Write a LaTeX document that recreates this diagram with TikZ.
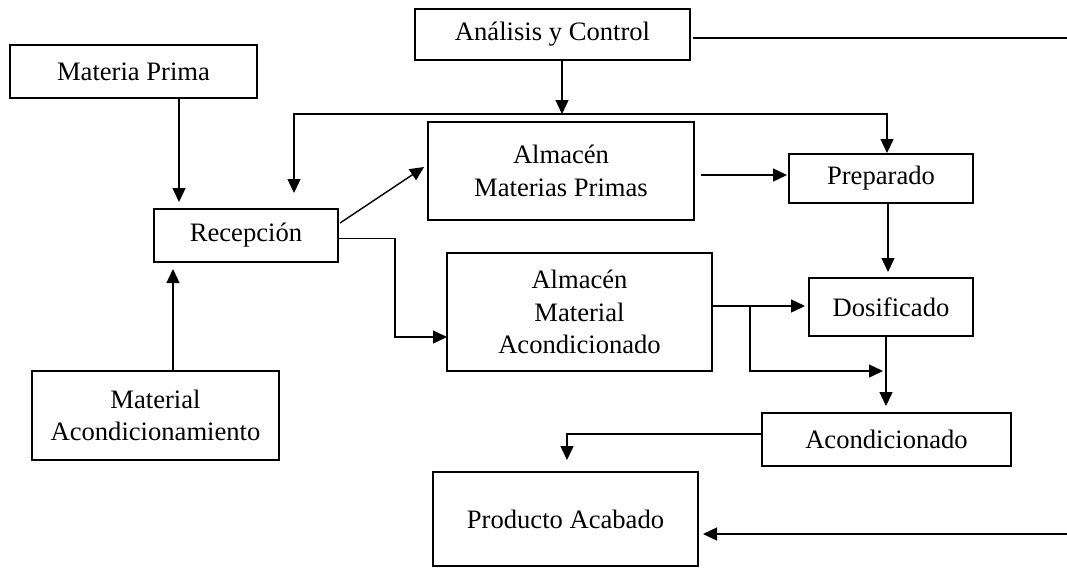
\documentclass[tikz,border=0pt]{standalone}
\usepackage{fontspec}
\setmainfont{Liberation Serif}
\usetikzlibrary{arrows.meta}
\begin{document}
\begin{tikzpicture}[x=1pt,y=-1pt,
  box/.style={draw,line width=1.4pt,inner sep=0pt,outer sep=0pt,align=center,
    font=\fontsize{26.6}{32.5}\selectfont},
  tip/.tip={Triangle[length=14pt,width=13pt]},
  arr/.style={line width=1.4pt,-tip},
  both/.style={line width=1.4pt,tip-tip},
  plain/.style={line width=1.4pt}]
\useasboundingbox (0,0) rectangle (1067,568);

% process boxes
\node[box,minimum width=247pt,minimum height=53pt] (mp) at (133.5,71.5) {Materia Prima};
\node[box,minimum width=275pt,minimum height=51pt] (ac) at (552.5,34.5) {Análisis y Control};
\node[box,minimum width=184pt,minimum height=53pt] (rec) at (246,235.5) {Recepción};
\node[box,minimum width=266pt,minimum height=98pt] (amp) at (561,171) {Almacén\\Materias Primas};
\node[box,minimum width=184pt,minimum height=49pt] (prep) at (881,178.5) {Preparado};
\node[box,minimum width=265pt,minimum height=118pt] (ama) at (579.5,312) {Almacén\\Material\\Acondicionado};
\node[box,minimum width=164pt,minimum height=58pt] (dos) at (891,307) {Dosificado};
\node[box,minimum width=247pt,minimum height=89pt] (macond) at (155.5,415.5) {Material\\Acondicionamiento};
\node[box,minimum width=249pt,minimum height=53pt] (acond) at (886.5,439.5) {Acondicionado};
\node[box,minimum width=265pt,minimum height=94pt] (prod) at (565.5,519) {Producto Acabado};

% routing points
\coordinate (fbl) at (294,114);
\coordinate (fbr) at (887,114);
\coordinate (acdrop) at ([xshift=9.5pt]ac.south);
\coordinate (split) at ([xshift=38pt,yshift=6pt]ama.east);
\coordinate (rtop) at (1067,38);
\coordinate (rbot) at (1067,534);

% connectors
\draw[arr] ([xshift=45.5pt]mp.south) -- ([xshift=-67pt,yshift=7pt]rec.north);
\draw[arr] ([xshift=17.5pt]macond.north) -- ([xshift=-73pt,yshift=-7pt]rec.south);
\draw[arr] ([xshift=2pt,yshift=12.5pt]rec.east) -- ([xshift=-4pt,yshift=4pt]amp.west);
\draw[arr] ([yshift=-3pt]rec.east) -| ([xshift=-52pt,yshift=-25pt]ama.west) -- ([yshift=-25pt]ama.west);
\draw[arr] (acdrop) -- (acdrop |- fbl);
\draw[both] ([xshift=6pt,yshift=1pt]prep.north) -- (fbr) -- (fbl) -- ([xshift=48pt,yshift=16pt]rec.north);
\draw[arr] ([xshift=7pt,yshift=-4pt]amp.east) -- ([xshift=-2pt,yshift=3.5pt]prep.west);
\draw[arr] ([xshift=7pt]prep.south) -- ([xshift=-3pt,yshift=6pt]dos.north);
\draw[arr] ([yshift=6pt]ama.east) -- ([xshift=-4pt,yshift=1pt]dos.west);
\draw[arr] (split) |- ([xshift=-3.5pt,yshift=42pt]acond.north);
\draw[arr] ([xshift=-5pt]dos.south) -- ([xshift=-0.5pt,yshift=7pt]acond.north);
\draw[arr] ([yshift=5.5pt]acond.west) -| ([xshift=1.5pt,yshift=12pt]prod.north);
\draw[plain] ([xshift=3pt,yshift=-3.5pt]ac.east) -- (rtop);
\draw[arr] (rbot) -- ([xshift=5pt,yshift=-15pt]prod.east);
\end{tikzpicture}
\end{document}
